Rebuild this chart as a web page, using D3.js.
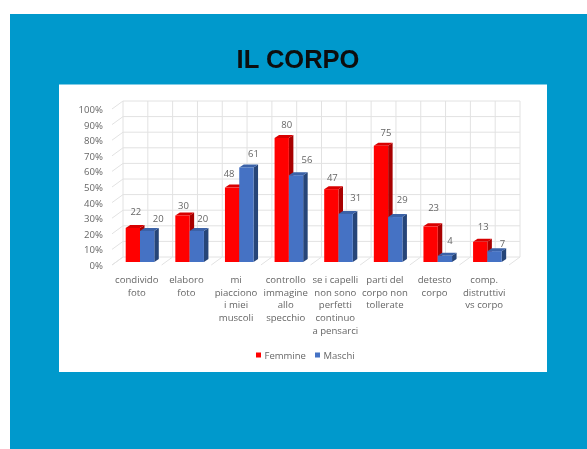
<!DOCTYPE html>
<html lang="en">

<head>
    <meta charset="UTF-8">
    <script src="https://d3js.org/d3.v7.min.js" charset="utf-8"></script>
    <title>Il corpo</title>
    <style>
        html, body { margin: 0; padding: 0; background: white; overflow: hidden; }
        text { font-family: "Open Sans", sans-serif; fill: #666; }
    </style>
</head>

<body>
    <div id="chart"></div>

    <script>
        const categories = [
            ["condivido", "foto"],
            ["elaboro", "foto"],
            ["mi", "piacciono", "i miei", "muscoli"],
            ["controllo", "immagine", "allo", "specchio"],
            ["se i capelli", "non sono", "perfetti", "continuo", "a pensarci"],
            ["parti del", "corpo non", "tollerate"],
            ["detesto", "corpo"],
            ["comp.", "distruttivi", "vs corpo"]
        ];
        const femmine = [22, 30, 48, 80, 47, 75, 23, 13];
        const maschi = [20, 20, 61, 56, 31, 29, 4, 7];
        const percentTicks = [0, 10, 20, 30, 40, 50, 60, 70, 80, 90, 100];

        // how far each value label sits from the middle top of its bar
        const labelShiftF = [[3, -13], [1, -7], [-3, -11], [5, -10], [1, -8], [5, -10], [3, -15], [3, -12]];
        const labelShiftM = [[11, -9], [6, -9], [7, -10], [11, -12], [10, -13], [7, -14], [5, -12], [8, -4]];

        const width = 587, height = 449;
        const depthX = 11, depthY = -8;      // wall depth
        const barDX = 4.5, barDY = -3;       // bar depth

        const svg = d3.select("#chart").append("svg")
            .attr("width", width)
            .attr("height", height);

        const defs = svg.append("defs");
        defs.append("filter").attr("id", "soft")
            .append("feGaussianBlur")
            .attr("stdDeviation", 0.6);
        defs.append("filter").attr("id", "softTitle")
            .append("feGaussianBlur")
            .attr("stdDeviation", 0.5);

        svg.append("rect").attr("x", 10).attr("y", 14)
            .attr("width", width - 10).attr("height", height - 14)
            .attr("fill", "#0099cc");
        svg.append("rect").attr("x", 59).attr("y", 84.5)
            .attr("width", 488).attr("height", 287.5)
            .attr("fill", "white");

        svg.append("text")
            .attr("x", 298).attr("y", 68)
            .attr("text-anchor", "middle")
            .attr("filter", "url(#softTitle)")
            .style("font-family", "'Liberation Sans', sans-serif")
            .style("font-size", "25.5px")
            .style("font-weight", "bold")
            .style("fill", "#0b0b0b")
            .text("IL CORPO");

        const g = svg.append("g").attr("filter", "url(#soft)");

        const x = d3.scaleBand().domain(d3.range(categories.length)).range([112, 509]);
        const yFront = d3.scaleLinear().domain([0, 100]).range([265, 109]);
        const yBar = d3.scaleLinear().domain([0, 100]).range([262, 107]);
        const bar = 14.3;

        // walls
        const grid = g.append("g").attr("stroke", "#e2e2e2").attr("stroke-width", 1).attr("fill", "none");
        percentTicks.forEach(function (t) {
            const y0 = yFront(t);
            grid.append("path").attr("d", "M112," + y0 + "L" + (112 + depthX) + "," + (y0 + depthY) + "H" + (509 + depthX));
        });
        d3.range(0, categories.length * 2 + 1).forEach(function (i) {
            const xi = 112 + x.bandwidth() / 2 * i;
            grid.append("path").attr("d", "M" + (xi + depthX) + "," + (yFront(0) + depthY) + "V" + (yFront(100) + depthY));
            if (i % 2 == 0) {
                grid.append("path").attr("d", "M" + xi + "," + yFront(0) + "L" + (xi + depthX) + "," + (yFront(0) + depthY));
            }
        });

        function drawBars(values, xShift, front, side, top) {
            g.append("g").selectAll("g")
                .data(values)
                .enter()
                .append("g")
                .attr("class", "bar")
                .each(function (d, i) {
                    const b = d3.select(this);
                    const x0 = x(i) + xShift, x1 = x0 + bar;
                    const y0 = yBar(d), y1 = yBar(0);
                    b.append("path").attr("fill", side)
                        .attr("d", "M" + x1 + "," + y0 + "l" + barDX + "," + barDY + "V" + (y1 + barDY) + "l" + (-barDX) + "," + (-barDY) + "Z");
                    b.append("path").attr("fill", top)
                        .attr("d", "M" + x0 + "," + y0 + "l" + barDX + "," + barDY + "H" + (x1 + barDX) + "l" + (-barDX) + "," + (-barDY) + "Z");
                    b.append("rect").attr("fill", front)
                        .attr("x", x0).attr("y", y0)
                        .attr("width", bar).attr("height", y1 - y0);
                });
        }

        function drawLabels(values, xShift, shifts) {
            g.append("g").selectAll("text")
                .data(values)
                .enter()
                .append("text")
                .attr("x", (d, i) => x(i) + xShift + bar / 2 + shifts[i][0])
                .attr("y", (d, i) => yBar(d) + shifts[i][1])
                .attr("text-anchor", "middle")
                .style("font-size", "9.5px")
                .text(d => d);
        }

        // red bars first, the blue one sits in front of the red side
        drawBars(femmine, 13.7, "#ff0000", "#a80000", "#d80000");
        drawBars(maschi, 13.7 + bar, "#4472c4", "#264478", "#3a62a8");
        drawLabels(femmine, 13.7, labelShiftF);
        drawLabels(maschi, 13.7 + bar, labelShiftM);

        // y axis labels
        const yAxis = d3.axisLeft(yFront)
            .tickValues(percentTicks)
            .tickFormat(d => d + "%")
            .tickSize(0)
            .tickPadding(0);
        const ax = g.append("g").attr("transform", "translate(103,0.5)").call(yAxis);
        ax.select(".domain").remove();
        ax.selectAll("text").style("font-size", "9.6px").style("font-family", "'Open Sans', sans-serif").style("fill", "#666");

        // category labels
        const cat = g.append("g").selectAll("text")
            .data(categories)
            .enter()
            .append("text")
            .attr("text-anchor", "middle")
            .style("font-size", "9.6px");
        cat.selectAll("tspan")
            .data((d, i) => d.map(function (line) { return { line: line, i: i }; }))
            .enter()
            .append("tspan")
            .attr("x", d => x(d.i) + x.bandwidth() / 2)
            .attr("y", (d, j) => 283 + j * 12.7)
            .text(d => d.line);

        // legend
        const legend = g.append("g");
        [["Femmine", "#ff0000", 256], ["Maschi", "#4472c4", 315]].forEach(function (l) {
            legend.append("rect").attr("x", l[2]).attr("y", 352.5)
                .attr("width", 5).attr("height", 5).attr("fill", l[1]);
            legend.append("text").attr("x", l[2] + 8.5).attr("y", 358.5)
                .style("font-size", "9.5px").text(l[0]);
        });
    </script>
</body>

</html>
